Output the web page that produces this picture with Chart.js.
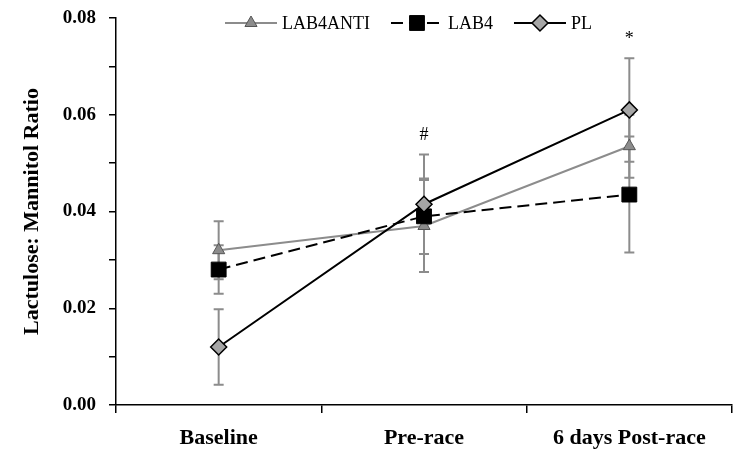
<!DOCTYPE html>
<html>
<head>
<meta charset="utf-8">
<script src="https://cdn.jsdelivr.net/npm/chart.js@4.4.0/dist/chart.umd.min.js"></script>
<style>
  html, body { margin: 0; padding: 0; background: #fff; }
</style>
</head>
<body>
<canvas id="lineChart" width="740" height="458"></canvas>
<script>
// du lieu doc tu hinh
const categories = ["Baseline", "Pre-race", "6 days Post-race"];
const lab4antiMean = [0.032, 0.037, 0.0535];
const lab4antiErr = [0.006, 0.0095, 0.0065];
const lab4Mean = [0.028, 0.039, 0.0435];
const lab4Err = [0.005, 0.0078, 0.012];
const plMean = [0.012, 0.0415, 0.061];
const plErr = [0.0078, 0.0103, 0.0107];
const marks = ["", "#", "*"];

const SERIF = '"Liberation Serif", "Times New Roman", serif';

// ve thanh sai so truoc cac duong
const errorBars = {
  id: "errorBars",
  beforeDatasetsDraw(chart) {
    const {ctx, scales: {x, y}} = chart;
    ctx.save();
    ctx.strokeStyle = "#8c8c8c";
    ctx.lineWidth = 2;
    chart.data.datasets.forEach((ds) => {
      ds.data.forEach((v, i) => {
        const px = x.getPixelForValue(i);
        const top = y.getPixelForValue(v + ds.errors[i]);
        const bot = y.getPixelForValue(v - ds.errors[i]);
        ctx.beginPath();
        ctx.moveTo(px, top);
        ctx.lineTo(px, bot);
        ctx.moveTo(px - 5, top);
        ctx.lineTo(px + 5, top);
        ctx.moveTo(px - 5, bot);
        ctx.lineTo(px + 5, bot);
        ctx.stroke();
      });
    });
    ctx.restore();
  },
};

// ky hieu # va * phia tren
const sigMarks = {
  id: "sigMarks",
  afterDatasetsDraw(chart) {
    const {ctx, scales: {x, y}} = chart;
    ctx.save();
    ctx.font = "18px " + SERIF;
    ctx.fillStyle = "#000";
    ctx.textAlign = "center";
    ctx.textBaseline = "middle";
    marks.forEach((m, i) => {
      if (!m) return;
      let top = 0;
      chart.data.datasets.forEach((ds) => {
        top = Math.max(top, ds.data[i] + ds.errors[i]);
      });
      ctx.fillText(m, x.getPixelForValue(i), y.getPixelForValue(top) - 19);
    });
    ctx.restore();
  },
};

// chu thich o tren cung
const legendTop = {
  id: "legendTop",
  afterDraw(chart) {
    const {ctx} = chart;
    let xPos = 225;
    const yPos = 23;
    ctx.save();
    ctx.font = "18px " + SERIF;
    ctx.textBaseline = "middle";
    chart.data.datasets.forEach((ds) => {
      ctx.strokeStyle = ds.borderColor;
      ctx.lineWidth = ds.borderWidth;
      ctx.setLineDash(ds.borderDash || []);
      ctx.beginPath();
      ctx.moveTo(xPos, yPos);
      ctx.lineTo(xPos + 52, yPos);
      ctx.stroke();
      ctx.setLineDash([]);
      ctx.fillStyle = ds.pointBackgroundColor;
      ctx.strokeStyle = ds.pointBorderColor;
      ctx.lineWidth = ds.pointBorderWidth;
      Chart.helpers.drawPoint(ctx, {
        pointStyle: ds.pointStyle,
        radius: ds.pointRadius,
        borderWidth: ds.pointBorderWidth,
        rotation: 0,
      }, xPos + 26, yPos);
      ctx.fillStyle = "#000";
      ctx.fillText(ds.label, xPos + 57, yPos + 1);
      xPos += 57 + ctx.measureText(ds.label).width + 21;
    });
    ctx.restore();
  },
};

new Chart(document.getElementById("lineChart"), {
  type: "line",
  data: {
    labels: categories,
    datasets: [
      {
        label: "LAB4ANTI",
        data: lab4antiMean,
        errors: lab4antiErr,
        borderColor: "#8c8c8c",
        borderWidth: 2,
        pointStyle: "triangle",
        pointRadius: 7,
        pointBackgroundColor: "#8c8c8c",
        pointBorderColor: "#555",
        pointBorderWidth: 1,
        order: 2,
      },
      {
        label: "LAB4",
        data: lab4Mean,
        errors: lab4Err,
        borderColor: "#000",
        borderWidth: 2,
        borderDash: [12, 6],
        pointStyle: "rect",
        pointRadius: 10.5,
        pointBackgroundColor: "#000",
        pointBorderColor: "#000",
        pointBorderWidth: 1,
        order: 1,
      },
      {
        label: "PL",
        data: plMean,
        errors: plErr,
        borderColor: "#000",
        borderWidth: 2,
        pointStyle: "rectRot",
        pointRadius: 8,
        pointBackgroundColor: "#a6a6a6",
        pointBorderColor: "#000",
        pointBorderWidth: 1.5,
        order: 0,
      },
    ],
  },
  options: {
    responsive: false,
    animation: false,
    layout: {autoPadding: false, padding: {top: 18, right: 8, left: 0, bottom: 0}},
    plugins: {
      legend: {display: false},
      tooltip: {enabled: false},
    },
    elements: {line: {tension: 0}},
    scales: {
      x: {
        type: "category",
        offset: true,
        afterFit: (scale) => {
          scale.height = 53;
          scale.paddingLeft = 0;
          scale.paddingRight = 0;
        },
        grid: {
          offset: true,
          drawOnChartArea: false,
          drawTicks: true,
          tickLength: 8,
          color: "#000",
          lineWidth: 1.5,
        },
        border: {display: true, color: "#000", width: 1.5},
        ticks: {
          color: "#000",
          padding: 12,
          maxRotation: 0,
          font: {family: SERIF, size: 22, weight: "bold"},
        },
      },
      y: {
        min: 0,
        max: 0.08,
        afterFit: (scale) => {
          scale.width = 116;
          scale.paddingTop = 0;
          scale.paddingBottom = 0;
        },
        grid: {
          drawOnChartArea: false,
          drawTicks: true,
          tickLength: 7,
          color: "#000",
          lineWidth: 1.5,
        },
        border: {display: true, color: "#000", width: 1.5},
        ticks: {
          stepSize: 0.01,
          autoSkip: false,
          color: "#000",
          padding: 13,
          font: {family: SERIF, size: 19, weight: "bold"},
          callback: (v) => (Math.round(v * 100) % 2 === 0 ? v.toFixed(2) : ""),
        },
        title: {
          display: true,
          text: "Lactulose: Mannitol Ratio",
          color: "#000",
          padding: {top: 19, bottom: 0},
          font: {family: SERIF, size: 22, weight: "bold"},
        },
      },
    },
  },
  plugins: [errorBars, sigMarks, legendTop],
});
</script>
</body>
</html>
